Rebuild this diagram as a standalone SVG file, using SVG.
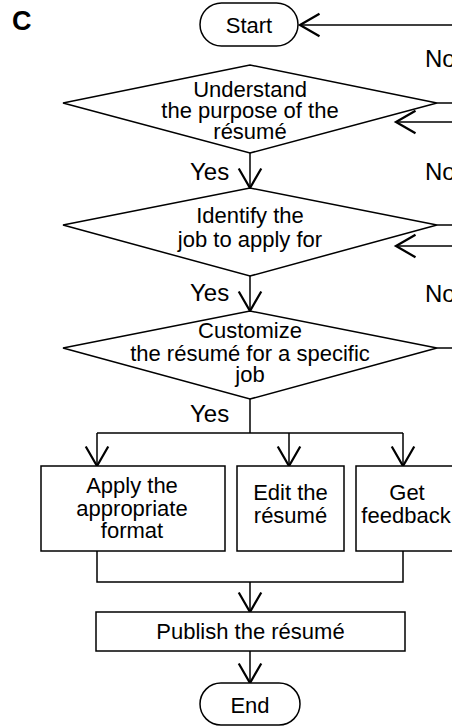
<svg xmlns="http://www.w3.org/2000/svg" width="452" height="726" viewBox="0 0 452 726">
<style>
.s{fill:#fff;stroke:#000;stroke-width:1.5}
.c{fill:none;stroke:#000;stroke-width:1.5}
text{font-family:"Liberation Sans",Arial,sans-serif;font-size:22px;fill:#000}
.m{text-anchor:middle}
.l{font-size:24px}
</style>
<defs>
<marker id="a" markerUnits="userSpaceOnUse" markerWidth="30" markerHeight="30" viewBox="-15 -10 20 20" refX="0" refY="0" orient="auto" overflow="visible">
<path d="M-13,-7.5 L0,0 L-13,7.5" fill="none" stroke="#000" stroke-width="1.5"/>
</marker>
</defs>
<rect width="452" height="726" fill="#fff"/>
<text x="12" y="30" style="font-size:27px;font-weight:bold">C</text>
<g id="connectors">
<line class="c" x1="452" y1="25" x2="300" y2="25" marker-end="url(#a)"/>
<line class="c" x1="437" y1="103" x2="452" y2="103"/>
<line class="c" x1="452" y1="122" x2="396" y2="122" marker-end="url(#a)"/>
<line class="c" x1="250" y1="153" x2="250" y2="188" marker-end="url(#a)"/>
<line class="c" x1="437" y1="225" x2="452" y2="225"/>
<line class="c" x1="452" y1="246" x2="396" y2="246" marker-end="url(#a)"/>
<line class="c" x1="250" y1="276" x2="250" y2="311" marker-end="url(#a)"/>
<line class="c" x1="437" y1="348" x2="452" y2="348"/>
<line class="c" x1="250" y1="399" x2="250" y2="433"/>
<line class="c" x1="97" y1="433" x2="403" y2="433"/>
<line class="c" x1="97" y1="433" x2="97" y2="466" marker-end="url(#a)"/>
<line class="c" x1="289" y1="433" x2="289" y2="466" marker-end="url(#a)"/>
<line class="c" x1="403" y1="433" x2="403" y2="466" marker-end="url(#a)"/>
<polyline class="c" points="97,551 97,582 403,582 403,551"/>
<line class="c" x1="250" y1="582" x2="250" y2="612" marker-end="url(#a)"/>
<line class="c" x1="250" y1="651" x2="250" y2="683" marker-end="url(#a)"/>
<text class="l" x="425" y="67">No</text>
<text class="l" x="425" y="180">No</text>
<text class="l" x="425" y="302">No</text>
<text class="l" x="190" y="180">Yes</text>
<text class="l" x="190" y="301">Yes</text>
<text class="l" x="190" y="422">Yes</text>
</g>
<g id="start">
<rect class="s" x="200" y="3" width="98" height="43" rx="21.5"/>
<text class="m" x="249" y="33">Start</text>
</g>
<g id="d1">
<polygon class="s" points="63,103 250,65 437,103 250,153"/>
<text class="m" x="250" y="97">Understand</text>
<text class="m" x="250" y="118">the purpose of the</text>
<text class="m" x="250" y="139">résumé</text>
</g>
<g id="d2">
<polygon class="s" points="63,225 250,188 437,225 250,276"/>
<text class="m" x="250" y="223">Identify the</text>
<text class="m" x="250" y="247">job to apply for</text>
</g>
<g id="d3">
<polygon class="s" points="63,348 250,311 437,348 250,399"/>
<text class="m" x="250" y="338">Customize</text>
<text class="m" x="250" y="361">the résumé for a specific</text>
<text class="m" x="250" y="382">job</text>
</g>
<g id="b1">
<rect class="s" x="41" y="466" width="184" height="85"/>
<text class="m" x="132" y="493">Apply the</text>
<text class="m" x="132" y="516">appropriate</text>
<text class="m" x="132" y="538">format</text>
</g>
<g id="b2">
<rect class="s" x="237" y="466" width="107" height="85"/>
<text class="m" x="290.5" y="500">Edit the</text>
<text class="m" x="290.5" y="523">résumé</text>
</g>
<g id="b3">
<rect class="s" x="356" y="466" width="102" height="85"/>
<text class="m" x="407" y="500">Get</text>
<text class="m" x="406" y="523">feedback</text>
</g>
<g id="publish">
<rect class="s" x="96" y="612" width="309" height="39"/>
<text class="m" x="250.5" y="639">Publish the résumé</text>
</g>
<g id="end">
<rect class="s" x="200" y="683" width="100" height="42" rx="21"/>
<text class="m" x="250" y="713">End</text>
</g>
</svg>
